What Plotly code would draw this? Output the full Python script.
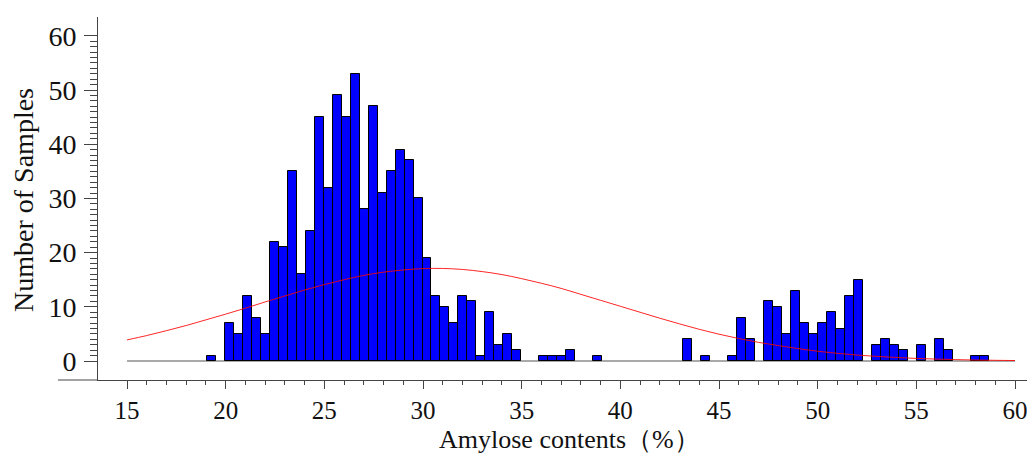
import numpy as np
import plotly.graph_objects as go

# Histogram bins
bin_start = 19.04
bin_width = 0.4556
counts = [1, 0, 7, 5, 12, 8, 5, 22, 21, 35,
          16, 24, 45, 32, 49, 45, 53, 28, 47, 31,
          35, 39, 37, 30, 19, 12, 10, 7, 12, 11,
          1, 9, 3, 5, 2, 0, 0, 1, 1, 1,
          2, 0, 0, 1, 0, 0, 0, 0, 0, 0,
          0, 0, 0, 4, 0, 1, 0, 0, 1, 8,
          4, 0, 11, 10, 5, 13, 7, 5, 7, 9,
          6, 12, 15, 0, 3, 4, 3, 2, 0, 3,
          0, 4, 2, 0, 0, 1, 1]

# Fitted normal curve
curve_x = list(range(15, 61))
curve_y = [3.9, 4.7, 5.6, 6.55, 7.6, 8.65, 9.75, 10.9, 12.0, 13.1,
           14.1, 15.0, 15.8, 16.4, 16.8, 17.05, 17.08, 16.9, 16.5, 15.95,
           15.2, 14.35, 13.4, 12.3, 11.2, 10.1, 9.0, 7.9, 6.85, 5.85,
           4.95, 4.15, 3.45, 2.85, 2.3, 1.8, 1.42, 1.1, 0.85, 0.65,
           0.48, 0.36, 0.26, 0.18, 0.13, 0.09]

x_ticks = [15, 20, 25, 30, 35, 40, 45, 50, 55, 60]
y_ticks = [0, 10, 20, 30, 40, 50, 60]
x_title = "Amylose contents（%）"
y_title = "Number of Samples"

centers = bin_start + (np.arange(len(counts)) + 0.5) * bin_width
cnt = np.array(counts)
mask = cnt > 0

fig = go.Figure()
fig.add_trace(go.Bar(
    x=centers[mask], y=cnt[mask], width=bin_width,
    marker=dict(color="#0000ff", line=dict(color="#000000", width=1)),
    showlegend=False,
))
fig.add_trace(go.Scatter(
    x=curve_x, y=curve_y, mode="lines",
    line=dict(color="rgba(255,0,0,0.85)", width=1, shape="spline"),
    showlegend=False,
))

# gray baseline at zero
fig.add_shape(type="line", xref="x", yref="y",
              x0=x_ticks[0], x1=x_ticks[-1], y0=0, y1=0,
              line=dict(color="#8c8c8c", width=1.5), layer="below")
# bottom axis line extending left past the y axis
fig.add_shape(type="line", xref="paper", yref="paper",
              x0=-0.043, x1=0, y0=0, y1=0,
              line=dict(color="#444444", width=1))

font = "Liberation Serif, Times New Roman, serif"
fig.add_annotation(text=x_title, xref="paper", yref="paper",
                   x=0.506, y=-0.163, xanchor="center", yanchor="middle",
                   showarrow=False, font=dict(size=26, family=font, color="#111111"))
fig.add_annotation(text=y_title, xref="paper", yref="paper",
                   x=-0.0794, y=0.496, xanchor="center", yanchor="middle",
                   textangle=-90, showarrow=False,
                   font=dict(size=28, family=font, color="#111111"))

# the page body adds an 8px offset at top-left; plot area placed to match
fig.update_layout(
    width=1027, height=453,
    margin=dict(l=90, r=5, t=9, b=81),
    paper_bgcolor="white", plot_bgcolor="white",
    font=dict(family=font, color="#111111"),
    bargap=0,
    xaxis=dict(
        range=[13.53, 60.76], automargin=False,
        tickmode="array", tickvals=x_ticks,
        ticks="outside", ticklen=8, tickwidth=1, tickcolor="#444444",
        minor=dict(tickmode="array", tickvals=list(range(15, 61)),
                   ticks="outside", ticklen=4, tickcolor="#444444"),
        showline=True, linecolor="#444444", linewidth=1,
        showgrid=False, zeroline=False,
        tickfont=dict(size=25, family=font),
    ),
    yaxis=dict(
        range=[-3.5, 63.47], automargin=False,
        tickmode="array", tickvals=y_ticks,
        ticks="outside", ticklen=13, tickwidth=1, tickcolor="#444444",
        minor=dict(tickmode="array", tickvals=list(range(0, 61)),
                   ticks="outside", ticklen=7, tickcolor="#444444"),
        showline=True, linecolor="#444444", linewidth=1,
        showgrid=False, zeroline=False,
        ticklabelstandoff=2,
        tickfont=dict(size=28, family=font),
    ),
)

fig.write_html("out.html")
